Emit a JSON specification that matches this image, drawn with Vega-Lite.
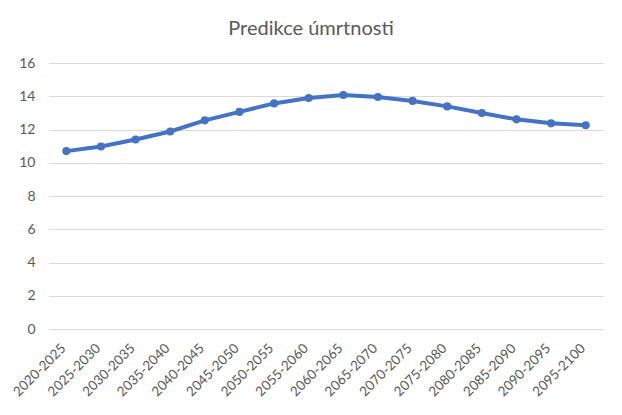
{
  "$schema": "https://vega.github.io/schema/vega-lite/v6.json",
  "width": 554,
  "height": 266,
  "autosize": {"type": "none"},
  "padding": {"left": 49, "top": 63, "right": 19, "bottom": 86},
  "background": "white",
  "title": {
    "text": "Predikce úmrtnosti",
    "fontSize": 20,
    "font": "Lato",
    "fontWeight": "normal",
    "color": "#595959",
    "anchor": "middle",
    "dx": -15,
    "offset": 17
  },
  "data": {
    "values": [
      {"period": "2020-2025", "value": 10.70},
      {"period": "2025-2030", "value": 10.98},
      {"period": "2030-2035", "value": 11.40},
      {"period": "2035-2040", "value": 11.88},
      {"period": "2040-2045", "value": 12.55},
      {"period": "2045-2050", "value": 13.06},
      {"period": "2050-2055", "value": 13.57},
      {"period": "2055-2060", "value": 13.89},
      {"period": "2060-2065", "value": 14.07},
      {"period": "2065-2070", "value": 13.95},
      {"period": "2070-2075", "value": 13.72},
      {"period": "2075-2080", "value": 13.39},
      {"period": "2080-2085", "value": 12.99},
      {"period": "2085-2090", "value": 12.61},
      {"period": "2090-2095", "value": 12.37},
      {"period": "2095-2100", "value": 12.26}
    ]
  },
  "mark": {
    "type": "line",
    "color": "#4472C4",
    "strokeWidth": 4,
    "point": {"filled": true, "size": 65, "color": "#4472C4"}
  },
  "encoding": {
    "x": {
      "field": "period",
      "type": "ordinal",
      "title": null,
      "sort": null,
      "scale": {"paddingInner": 0, "paddingOuter": 0.5},
      "axis": {
        "labelAngle": -45,
        "domain": true,
        "domainColor": "#D9D9D9",
        "ticks": false,
        "grid": false,
        "labelPadding": 12,
        "labelOffset": -8,
        "labelFontSize": 13.5
      }
    },
    "y": {
      "field": "value",
      "type": "quantitative",
      "title": null,
      "scale": {"domain": [0, 16]},
      "axis": {
        "values": [0, 2, 4, 6, 8, 10, 12, 14, 16],
        "grid": true,
        "gridColor": "#D9D9D9",
        "domain": false,
        "ticks": false,
        "labelPadding": 14,
        "labelFontSize": 14
      }
    }
  },
  "config": {
    "view": {"stroke": null},
    "axis": {
      "labelFont": "Lato",
      "labelColor": "#595959"
    }
  }
}
